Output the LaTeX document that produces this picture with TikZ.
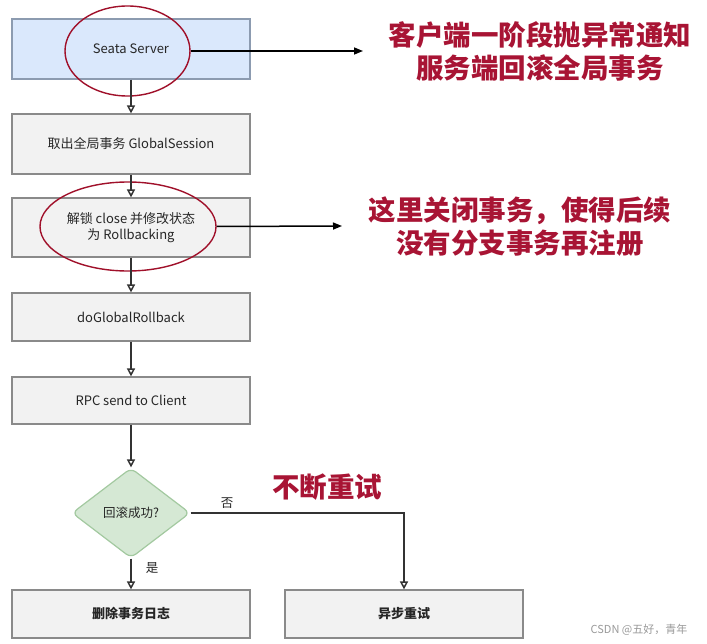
\documentclass[tikz,border=0pt]{standalone}
\usepackage{fontspec}
\setmainfont{Noto Sans CJK SC}
\newfontfamily\cjk{Noto Sans CJK SC}
\usetikzlibrary{arrows.meta,shapes.geometric,positioning}
\definecolor{boxfill}{HTML}{F2F2F2}
\definecolor{boxline}{HTML}{8A8A8A}
\definecolor{bluefill}{HTML}{DAE8FC}
\definecolor{blueline}{HTML}{8C9BB0}
\definecolor{greenfill}{HTML}{D5E8D4}
\definecolor{greenline}{HTML}{A3C9A0}
\definecolor{ringred}{HTML}{A0102A}
\definecolor{notered}{HTML}{A81434}
\definecolor{wmgray}{HTML}{9A9A9A}
\tikzset{
  x=1bp, y=-1bp,
  stepbox/.style={draw=boxline, fill=boxfill, line width=1.2bp, minimum width=238bp,
    inner sep=0pt, align=center, font=\cjk\fontsize{13bp}{16.5bp}\selectfont, text=black!85},
  flow/.style={draw=black!80, line width=1.5bp, -{Triangle[open,length=8bp,width=8bp]}},
  ring/.style={draw=ringred, line width=1.4bp, ellipse, inner sep=0pt},
  callout/.style={draw=black, line width=1.5bp, -{Triangle[length=9bp,width=7bp]}},
  note/.style={text=notered, font=\cjk\bfseries\fontsize{27.5bp}{33bp}\selectfont, align=center, inner sep=0pt},
  lbl/.style={font=\cjk\fontsize{12.5bp}{15bp}\selectfont, text=black!85, inner sep=0pt}
}
\begin{document}
\begin{tikzpicture}
\useasboundingbox (0,0) rectangle (707,644);
\fill[white] (0,0) rectangle (707,644);

\node[stepbox, fill=bluefill, draw=blueline, minimum height=60bp] (s1) at (131,49) {Seata Server};
\node[stepbox, minimum height=60bp] (s2) at (131,144) {取出全局事务 \textit{GlobalSession}};
\node[stepbox, minimum height=59bp] (s3) at (131,227.5) {解锁 close 并修改状态\\为 Rollbacking};
\node[stepbox, minimum height=48bp] (s4) at (131,317) {doGlobalRollback};
\node[stepbox, minimum height=47bp] (s5) at (131,400.5) {RPC send to Client};
\node[diamond, draw=greenline, fill=greenfill, line width=1.2bp, rounded corners=6bp,
      minimum width=118bp, minimum height=90bp, inner sep=0pt,
      font=\cjk\fontsize{12.5bp}{15bp}\selectfont, text=black!85] (d) at (131,513) {回滚成功?};
\node[stepbox, minimum height=48bp] (s6) at (131,614) {\bfseries 删除事务日志};
\node[stepbox, minimum height=48bp] (s7) at (404,614) {\bfseries 异步重试};

\node[ring, minimum width=125bp, minimum height=90bp] (e1) at (127.5,51) {};
\node[ring, minimum width=176bp, minimum height=89bp] (e2) at (128,226.5) {};

\draw[flow] (s1) -- (s2);
\draw[flow] (s2) -- (s3);
\draw[flow] (s3) -- (s4);
\draw[flow] (s4) -- (s5);
\draw[flow] (s5) -- (d);
\draw[flow] (d) -- (s6);
\draw[flow] (d.east) -| (s7.north);

\node[lbl] (no) at (227,503) {否};
\node[lbl] (yes) at (152,568) {是};

\coordinate (c1) at (363,51);
\coordinate (c2) at (342,226);
\draw[callout] (e1.east) -- (c1);
\draw[callout] (e2.east) -- (c2);

\node[note] (t1) at (540,51) {客户端一阶段抛异常通知\\服务端回滚全局事务};
\node[note] (t2) at (520,227) {这里关闭事务，使得后续\\没有分支事务再注册};
\node[note] (t3) at (327,487) {不断重试};

\node[font=\cjk\fontsize{11bp}{13bp}\selectfont, text=wmgray, inner sep=0pt] (wm) at (639,630) {CSDN @五好，青年};
\end{tikzpicture}
\end{document}
